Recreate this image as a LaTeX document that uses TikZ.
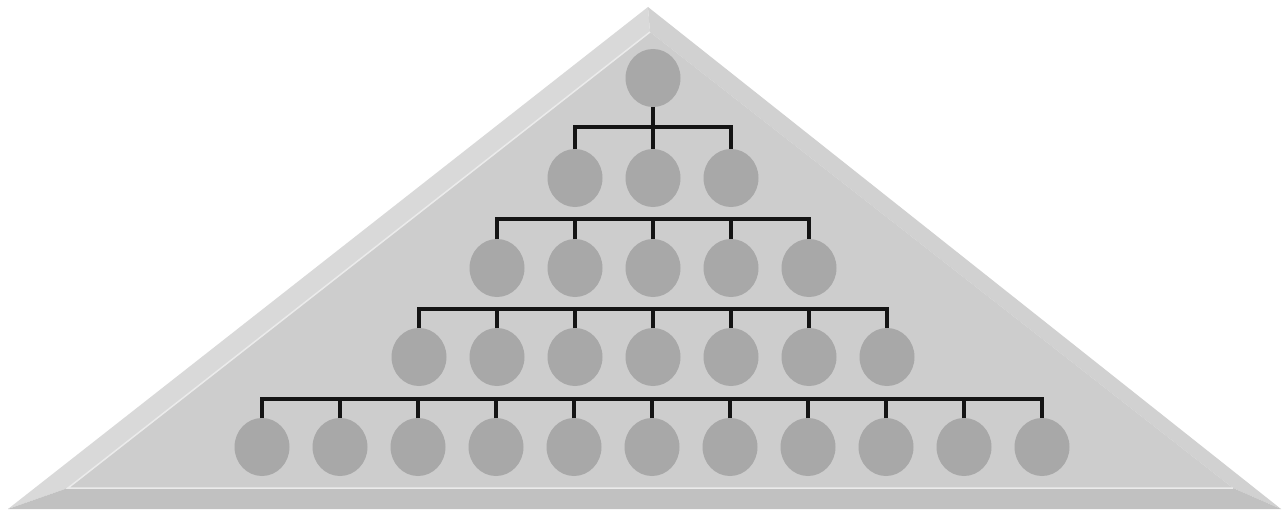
\documentclass[tikz,border=0pt]{standalone}
\usetikzlibrary{shapes.geometric}
\usetikzlibrary{positioning}
\usetikzlibrary{chains}
\usetikzlibrary{scopes}

\definecolor{leftface}{HTML}{D9D9D9}
\definecolor{rightface}{HTML}{D1D1D1}
\definecolor{bottomface}{HTML}{C1C1C1}
\definecolor{innerface}{HTML}{CDCDCD}
\definecolor{ballgray}{HTML}{A8A8A8}

\begin{document}
\begin{tikzpicture}[x=1pt,y=-1pt,
        ball/.style={ellipse,fill=ballgray,minimum width=55pt,minimum height=58pt,
            inner sep=0pt,outer sep=0pt},
        every on chain/.style=ball,
        wire/.style={line width=3.3pt,draw=black!92},
        node distance=2mm and 23pt]
    \useasboundingbox (0,0) rectangle (1283,511);
    % the bevelled triangle
    \fill[leftface] (648,7) -- (650,32) -- (68,488) -- (8,509) -- cycle;
    \fill[rightface] (648,7) -- (1281,509) -- (1233,488) -- (650,32) -- cycle;
    \fill[bottomface] (8,509) -- (68,488) -- (1233,488) -- (1281,509) -- cycle;
    \fill[innerface] (650,32) -- (68,488) -- (1233,488) -- cycle;
    \draw[white!60!innerface,line width=1.5pt] (650,32) -- (68,488) -- (1233,488);
    % the rows
    \node[ball] (top) at (653,78) {};
    { [start chain=rowtwo going right]
        \node[on chain] at (575,178) {};
        \foreach \i in {2,3} \node[on chain] {};
    }
    { [start chain=rowthree going right]
        \node[on chain] at (497,268) {};
        \foreach \i in {2,...,5} \node[on chain] {};
    }
    { [start chain=rowfour going right]
        \node[on chain] at (419,357) {};
        \foreach \i in {2,...,7} \node[on chain] {};
    }
    { [start chain=rowfive going right]
        \node[on chain] at (262,447) {};
        \foreach \i in {2,...,11} \node[on chain] {};
    }
    % the wiring
    \draw[wire] (top.south) -- (rowtwo-2.north);
    \draw[wire] (rowtwo-1.north) -- ++(0,-22) -| (rowtwo-3.north);
    \draw[wire] (rowthree-1.north) -- ++(0,-20) -| (rowthree-5.north);
    \foreach \i in {2,...,4} \draw[wire] (rowthree-\i.north) -- ++(0,-20);
    \draw[wire] (rowfour-1.north) -- ++(0,-19) -| (rowfour-7.north);
    \foreach \i in {2,...,6} \draw[wire] (rowfour-\i.north) -- ++(0,-19);
    \draw[wire] (rowfive-1.north) -- ++(0,-19) -| (rowfive-11.north);
    \foreach \i in {2,...,10} \draw[wire] (rowfive-\i.north) -- ++(0,-19);
\end{tikzpicture}
\end{document}
